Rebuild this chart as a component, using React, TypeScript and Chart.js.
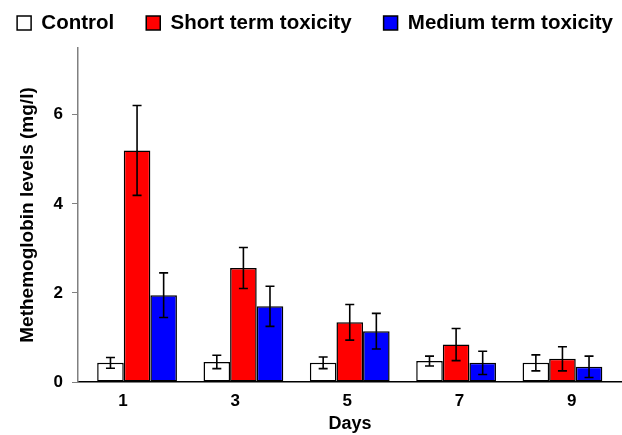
import React, { useEffect, useRef } from "react";
import { Chart, registerables } from "chart.js";

Chart.register(...registerables);

const days = [1, 3, 5, 7, 9];
const seriesNames = ["Control", "Short term toxicity", "Medium term toxicity"];
const controlMeans = [0.43, 0.45, 0.43, 0.47, 0.43];
const controlErr = [0.12, 0.15, 0.13, 0.11, 0.18];
const shortMeans = [5.2, 2.56, 1.34, 0.84, 0.52];
const shortErr = [1.01, 0.46, 0.4, 0.36, 0.27];
const mediumMeans = [1.95, 1.7, 1.14, 0.43, 0.34];
const mediumErr = [0.5, 0.45, 0.4, 0.26, 0.24];
const yTicks = [0, 2, 4, 6];
const xTitle = "Days";
const yTitle = "Methemoglobin levels (mg/l)";

const FONT = "'Liberation Sans', Arial, sans-serif";

const errorBarPlugin = {
  id: "errorBars",
  afterDatasetsDraw(chart: any) {
    const ctx = chart.ctx;
    const yScale = chart.scales.y;
    ctx.save();
    ctx.strokeStyle = "#000";
    ctx.lineWidth = 1.6;
    chart.data.datasets.forEach((ds: any, di: number) => {
      const meta = chart.getDatasetMeta(di);
      meta.data.forEach((bar: any, i: number) => {
        const v = ds.data[i].y;
        const e = ds.errors[i];
        const top = yScale.getPixelForValue(v + e);
        const bot = yScale.getPixelForValue(Math.max(v - e, 0));
        const x = bar.x;
        const cap = 4.5;
        ctx.beginPath();
        ctx.moveTo(x, top);
        ctx.lineTo(x, bot);
        ctx.moveTo(x - cap, top);
        ctx.lineTo(x + cap, top);
        ctx.moveTo(x - cap, bot);
        ctx.lineTo(x + cap, bot);
        ctx.stroke();
      });
    });
    ctx.restore();
  },
};

export default function App() {
  const ref = useRef<HTMLCanvasElement | null>(null);
  useEffect(() => {
    document.body.style.margin = "0";
    const canvas = ref.current;
    if (!canvas) return;
    const mk = (name: string, means: number[], errs: number[], color: string) => ({
      label: name,
      data: days.map((d, i) => ({ x: d, y: means[i] })),
      errors: errs,
      backgroundColor: color,
      borderColor: "#000",
      borderWidth: 1.5,
      borderSkipped: false,
      categoryPercentage: 0.75,
      barPercentage: 1.0,
      xAxisID: "x",
    });
    const chart = new Chart(canvas, {
      type: "bar",
      data: {
        datasets: [
          mk(seriesNames[0], controlMeans, controlErr, "#FFFFFF"),
          mk(seriesNames[1], shortMeans, shortErr, "#FF0000"),
          mk(seriesNames[2], mediumMeans, mediumErr, "#0000FF"),
        ] as any,
      },
      options: {
        responsive: false,
        animation: false,
        layout: { padding: { top: -19.25, left: -20.5, right: -28.5, bottom: 0 } },
        plugins: {
          tooltip: { enabled: false },
          legend: {
            display: true,
            position: "top",
            labels: {
              boxWidth: 14,
              boxHeight: 14,
              padding: 32,
              color: "#000",
              font: { family: FONT, size: 20.5, weight: "bold" },
            },
          } as any,
          subtitle: {
            display: true,
            text: "",
            position: "top",
            weight: 500,
            font: { size: 2 },
            padding: { top: 0, bottom: 2.35 },
          } as any,
        },
        scales: {
          x: {
            type: "linear",
            display: false,
            offset: false,
            min: -0.1106,
            max: 10.12,
          },
          xLabels: {
            type: "linear",
            position: "bottom",
            offset: false,
            min: 0.199,
            max: 9.896,
            afterBuildTicks: (s: any) => {
              s.ticks = days.map((d) => ({ value: d }));
            },
            afterFit: (s: any) => {
              s.height = 53;
            },
            grid: { display: false, drawTicks: false },
            border: { display: true, color: "#000", width: 1.5 },
            ticks: {
              color: "#000",
              padding: 9,
              font: { family: FONT, size: 17, weight: "bold" },
            },
            title: {
              display: true,
              text: xTitle,
              color: "#000",
              padding: { top: 0, bottom: 0 },
              font: { family: FONT, size: 18, weight: "bold" },
            },
          },
          y: {
            type: "linear",
            min: 0,
            max: 7.5,
            afterBuildTicks: (s: any) => {
              s.ticks = yTicks.map((v) => ({ value: v }));
            },
            afterFit: (s: any) => {
              s.width = 98.5;
            },
            grid: {
              drawOnChartArea: false,
              drawTicks: true,
              tickLength: 6,
              color: "#808080",
            },
            border: { display: true, color: "#808080", width: 1.5 },
            ticks: {
              color: "#000",
              padding: 9,
              font: { family: FONT, size: 17, weight: "bold" },
            },
            title: {
              display: true,
              text: yTitle,
              color: "#000",
              padding: { top: 37, bottom: 0 },
              font: { family: FONT, size: 19, weight: "bold" },
            },
          },
        },
      } as any,
      plugins: [errorBarPlugin],
    });
    return () => chart.destroy();
  }, []);
  return (
    <div style={{ width: 622, height: 435 }}>
      <canvas ref={ref} width={622} height={435} style={{ display: "block" }} />
    </div>
  );
}
